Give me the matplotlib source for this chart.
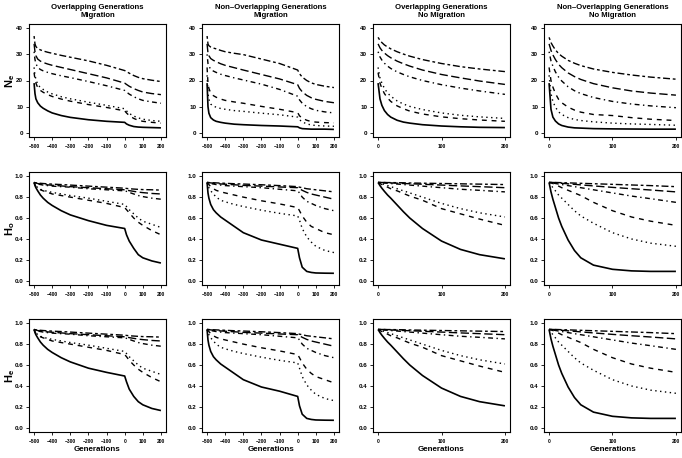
import matplotlib
matplotlib.use("Agg")
import matplotlib.pyplot as plt
from matplotlib.ticker import FormatStrFormatter

plt.rcParams['font.family'] = ['Liberation Sans', 'DejaVu Sans']
plt.rcParams['mathtext.fontset'] = 'custom'
plt.rcParams['mathtext.rm'] = 'Liberation Sans'
plt.rcParams['mathtext.bf'] = 'Liberation Sans:bold'

x_mig = [-500, -495, -490, -480, -465, -450, -425, -400, -350, -300, -200, -100, 0, 10, 25, 50, 75, 100, 150, 200]
x_nomig = [0, 3, 6, 10, 15, 20, 30, 40, 50, 70, 100, 130, 160, 200]

col_titles = ["Overlapping Generations\nMigration",
              "Non\u2013Overlapping Generations\nMigration",
              "Overlapping Generations\nNo Migration",
              "Non\u2013Overlapping Generations\nNo Migration"]
row_labels = [r"$\mathbf{N_e}$", r"$\mathbf{H_o}$", r"$\mathbf{H_e}$"]

# series order in every panel: solid, dashed, dotted, dotdash, longdash, twodash
ne_ov_mig = [
    [19, 15, 13, 11.5, 10.2, 9.4, 8.4, 7.6, 6.6, 5.9, 5.0, 4.4, 4.0, 3.4, 2.9, 2.4, 2.2, 2.1, 2.0, 1.9],
    [23, 20.5, 19, 17.3, 16.2, 15.5, 14.6, 13.9, 12.9, 12.1, 10.8, 9.7, 8.4, 7.6, 6.6, 5.5, 4.8, 4.4, 4.0, 3.7],
    [25, 22, 20.5, 18.5, 17.3, 16.6, 15.6, 14.9, 13.8, 13.0, 11.7, 10.5, 9.2, 8.4, 7.4, 6.4, 5.7, 5.2, 4.7, 4.4],
    [31, 28, 26.5, 25, 24.2, 23.7, 23.1, 22.6, 21.8, 21.1, 19.6, 18.0, 16.2, 15.6, 14.8, 13.8, 13.0, 12.4, 11.8, 11.3],
    [34, 31, 29.5, 28.2, 27.4, 26.9, 26.3, 25.8, 25.0, 24.2, 22.6, 21.0, 19.0, 18.5, 17.8, 16.9, 16.2, 15.6, 15.0, 14.6],
    [37, 34, 33, 32.2, 31.7, 31.3, 30.8, 30.4, 29.6, 28.9, 27.5, 25.8, 23.8, 23.4, 22.8, 21.9, 21.2, 20.7, 20.1, 19.6],
]
ne_nov_mig = [
    [19, 10, 7.5, 5.8, 4.9, 4.4, 4.0, 3.7, 3.3, 3.1, 2.8, 2.6, 2.3, 1.9, 1.6, 1.5, 1.4, 1.4, 1.4, 1.3],
    [25, 19, 17, 15.2, 14.2, 13.6, 12.9, 12.4, 11.8, 11.3, 10.1, 9.0, 7.7, 6.5, 5.6, 4.8, 4.3, 4.1, 3.9, 3.8],
    [22, 15, 12.8, 11, 10.2, 9.8, 9.3, 9.0, 8.5, 8.2, 7.5, 6.9, 6.0, 5.0, 4.2, 3.4, 3.0, 2.8, 2.6, 2.5],
    [30, 26.5, 25.5, 24.3, 23.6, 23.1, 22.4, 21.9, 21.0, 20.2, 18.6, 16.6, 14.0, 12.6, 11.3, 10.0, 9.2, 8.6, 8.0, 7.6],
    [34, 30.5, 29.5, 28.4, 27.7, 27.2, 26.4, 25.8, 24.9, 24.0, 22.3, 20.6, 18.4, 17.0, 15.7, 14.3, 13.4, 12.8, 12.0, 11.5],
    [37, 34, 33.3, 32.8, 32.4, 32.1, 31.5, 31.0, 30.4, 29.9, 28.2, 26.5, 24.0, 22.6, 21.3, 20.0, 19.1, 18.5, 17.8, 17.3],
]
ne_ov_nomig = [
    [19, 13, 10.5, 8.5, 7.0, 6.0, 4.8, 4.1, 3.7, 3.1, 2.6, 2.3, 2.1, 2.0],
    [23, 19, 17, 15, 13.3, 12.0, 10.3, 9.2, 8.3, 7.2, 6.1, 5.4, 4.9, 4.4],
    [25, 21, 19, 17, 15.2, 14.0, 12.2, 11.0, 10.1, 8.9, 7.6, 6.7, 6.1, 5.5],
    [31, 29, 27.8, 26.6, 25.5, 24.6, 23.3, 22.3, 21.4, 20.0, 18.4, 17.1, 16.0, 14.7],
    [34, 32.5, 31.5, 30.5, 29.5, 28.7, 27.4, 26.4, 25.5, 24.0, 22.3, 21.0, 19.8, 18.5],
    [36.5, 35.3, 34.5, 33.6, 32.8, 32.1, 31.0, 30.1, 29.3, 28.0, 26.5, 25.3, 24.4, 23.4],
]
ne_nov_nomig = [
    [19, 9, 6, 4.5, 3.4, 2.8, 2.2, 1.9, 1.8, 1.6, 1.5, 1.45, 1.4, 1.4],
    [25, 20, 17.5, 15, 12.8, 11.5, 9.8, 8.7, 7.9, 7.0, 6.6, 5.8, 5.2, 4.7],
    [22, 15, 12, 9.8, 8.0, 7.0, 5.8, 5.1, 4.7, 4.2, 3.7, 3.4, 3.2, 2.9],
    [31, 27.5, 25.5, 23.3, 21.3, 19.8, 17.6, 16.1, 15.0, 13.5, 12.0, 11.0, 10.3, 9.6],
    [34, 31.5, 29.8, 28.0, 26.2, 24.9, 22.9, 21.5, 20.4, 18.8, 17.2, 16.0, 15.2, 14.4],
    [36.5, 34.5, 33.2, 31.7, 30.3, 29.3, 27.7, 26.6, 25.7, 24.4, 23.1, 22.1, 21.3, 20.5],
]

ho_ov_mig = [
    [0.94, 0.91, 0.89, 0.86, 0.82, 0.79, 0.75, 0.72, 0.67, 0.63, 0.575, 0.53, 0.50, 0.44, 0.38, 0.31, 0.25, 0.22, 0.19, 0.17],
    [0.94, 0.92, 0.90, 0.88, 0.87, 0.86, 0.845, 0.83, 0.815, 0.80, 0.77, 0.74, 0.70, 0.68, 0.65, 0.60, 0.56, 0.53, 0.48, 0.44],
    [0.94, 0.925, 0.91, 0.89, 0.875, 0.865, 0.855, 0.845, 0.83, 0.815, 0.79, 0.76, 0.73, 0.71, 0.68, 0.64, 0.60, 0.57, 0.54, 0.51],
    [0.94, 0.935, 0.93, 0.925, 0.92, 0.915, 0.91, 0.905, 0.90, 0.895, 0.88, 0.87, 0.86, 0.855, 0.845, 0.83, 0.815, 0.805, 0.79, 0.78],
    [0.94, 0.938, 0.935, 0.93, 0.925, 0.92, 0.917, 0.913, 0.907, 0.90, 0.89, 0.88, 0.87, 0.867, 0.862, 0.855, 0.848, 0.843, 0.835, 0.83],
    [0.94, 0.938, 0.937, 0.935, 0.932, 0.93, 0.927, 0.924, 0.92, 0.915, 0.905, 0.895, 0.885, 0.883, 0.88, 0.877, 0.874, 0.872, 0.87, 0.867],
]
ho_nov_mig = [
    [0.94, 0.84, 0.79, 0.73, 0.68, 0.65, 0.61, 0.58, 0.52, 0.46, 0.39, 0.35, 0.31, 0.22, 0.13, 0.09, 0.08, 0.075, 0.073, 0.072],
    [0.94, 0.93, 0.92, 0.90, 0.88, 0.865, 0.85, 0.84, 0.82, 0.80, 0.765, 0.735, 0.70, 0.67, 0.62, 0.56, 0.52, 0.50, 0.46, 0.44],
    [0.94, 0.91, 0.89, 0.86, 0.83, 0.80, 0.77, 0.755, 0.73, 0.71, 0.675, 0.645, 0.62, 0.58, 0.50, 0.42, 0.37, 0.33, 0.29, 0.27],
    [0.94, 0.938, 0.935, 0.93, 0.925, 0.92, 0.915, 0.91, 0.905, 0.90, 0.89, 0.875, 0.86, 0.84, 0.80, 0.76, 0.74, 0.72, 0.69, 0.67],
    [0.94, 0.939, 0.938, 0.936, 0.933, 0.93, 0.926, 0.923, 0.918, 0.912, 0.905, 0.897, 0.89, 0.88, 0.865, 0.845, 0.83, 0.82, 0.80, 0.78],
    [0.94, 0.94, 0.939, 0.938, 0.937, 0.936, 0.934, 0.932, 0.928, 0.925, 0.918, 0.91, 0.90, 0.895, 0.89, 0.88, 0.875, 0.87, 0.86, 0.85],
]
ho_ov_nomig = [
    [0.94, 0.91, 0.885, 0.855, 0.82, 0.79, 0.725, 0.66, 0.60, 0.50, 0.38, 0.30, 0.25, 0.21],
    [0.94, 0.93, 0.92, 0.91, 0.895, 0.88, 0.86, 0.835, 0.81, 0.77, 0.69, 0.64, 0.59, 0.53],
    [0.94, 0.935, 0.93, 0.92, 0.91, 0.90, 0.88, 0.86, 0.84, 0.80, 0.74, 0.69, 0.65, 0.61],
    [0.94, 0.94, 0.937, 0.935, 0.932, 0.93, 0.925, 0.92, 0.915, 0.905, 0.89, 0.875, 0.865, 0.85],
    [0.94, 0.94, 0.94, 0.939, 0.937, 0.936, 0.933, 0.93, 0.928, 0.923, 0.915, 0.907, 0.90, 0.89],
    [0.94, 0.94, 0.94, 0.94, 0.939, 0.939, 0.938, 0.937, 0.935, 0.933, 0.93, 0.927, 0.924, 0.92],
]
ho_nov_nomig = [
    [0.94, 0.85, 0.78, 0.70, 0.60, 0.52, 0.39, 0.29, 0.22, 0.15, 0.11, 0.095, 0.09, 0.09],
    [0.94, 0.935, 0.93, 0.92, 0.905, 0.89, 0.865, 0.84, 0.815, 0.75, 0.67, 0.61, 0.57, 0.53],
    [0.94, 0.915, 0.89, 0.86, 0.82, 0.79, 0.73, 0.67, 0.62, 0.55, 0.46, 0.40, 0.36, 0.33],
    [0.94, 0.94, 0.935, 0.93, 0.925, 0.92, 0.91, 0.90, 0.89, 0.87, 0.84, 0.81, 0.785, 0.75],
    [0.94, 0.94, 0.94, 0.938, 0.935, 0.932, 0.927, 0.922, 0.917, 0.907, 0.893, 0.88, 0.868, 0.85],
    [0.94, 0.94, 0.94, 0.94, 0.939, 0.938, 0.936, 0.934, 0.932, 0.928, 0.922, 0.916, 0.91, 0.90],
]

he_ov_mig = [
    [0.94, 0.91, 0.89, 0.86, 0.82, 0.79, 0.75, 0.72, 0.67, 0.63, 0.57, 0.53, 0.495, 0.44, 0.37, 0.30, 0.25, 0.22, 0.185, 0.165],
    [0.94, 0.92, 0.90, 0.88, 0.87, 0.86, 0.845, 0.83, 0.815, 0.80, 0.77, 0.74, 0.70, 0.68, 0.645, 0.60, 0.56, 0.53, 0.48, 0.44],
    [0.94, 0.925, 0.91, 0.89, 0.875, 0.865, 0.855, 0.845, 0.83, 0.815, 0.79, 0.76, 0.73, 0.71, 0.68, 0.64, 0.60, 0.57, 0.54, 0.51],
    [0.94, 0.935, 0.93, 0.925, 0.92, 0.915, 0.91, 0.905, 0.90, 0.895, 0.88, 0.87, 0.86, 0.855, 0.845, 0.83, 0.815, 0.805, 0.79, 0.78],
    [0.94, 0.938, 0.935, 0.93, 0.925, 0.92, 0.917, 0.913, 0.907, 0.90, 0.89, 0.88, 0.87, 0.867, 0.862, 0.855, 0.848, 0.843, 0.835, 0.83],
    [0.94, 0.938, 0.937, 0.935, 0.932, 0.93, 0.927, 0.924, 0.92, 0.915, 0.905, 0.895, 0.885, 0.883, 0.88, 0.877, 0.874, 0.872, 0.87, 0.867],
]
he_nov_mig = [
    [0.94, 0.84, 0.79, 0.73, 0.68, 0.65, 0.61, 0.58, 0.52, 0.46, 0.39, 0.35, 0.30, 0.21, 0.13, 0.09, 0.08, 0.075, 0.073, 0.072],
    [0.94, 0.93, 0.92, 0.90, 0.88, 0.865, 0.85, 0.84, 0.82, 0.80, 0.765, 0.735, 0.70, 0.67, 0.62, 0.56, 0.52, 0.49, 0.46, 0.43],
    [0.94, 0.91, 0.89, 0.86, 0.83, 0.80, 0.77, 0.755, 0.73, 0.71, 0.675, 0.645, 0.62, 0.57, 0.49, 0.41, 0.36, 0.32, 0.28, 0.26],
    [0.94, 0.938, 0.935, 0.93, 0.925, 0.92, 0.915, 0.91, 0.905, 0.90, 0.89, 0.875, 0.86, 0.84, 0.80, 0.76, 0.74, 0.72, 0.69, 0.67],
    [0.94, 0.939, 0.938, 0.936, 0.933, 0.93, 0.926, 0.923, 0.918, 0.912, 0.905, 0.897, 0.89, 0.88, 0.865, 0.845, 0.83, 0.82, 0.80, 0.78],
    [0.94, 0.94, 0.939, 0.938, 0.937, 0.936, 0.934, 0.932, 0.928, 0.925, 0.918, 0.91, 0.90, 0.895, 0.89, 0.88, 0.875, 0.87, 0.86, 0.85],
]
he_ov_nomig = [
    [0.94, 0.91, 0.885, 0.855, 0.82, 0.79, 0.725, 0.66, 0.60, 0.50, 0.38, 0.30, 0.25, 0.21],
    [0.94, 0.93, 0.92, 0.91, 0.895, 0.88, 0.86, 0.835, 0.81, 0.77, 0.69, 0.64, 0.59, 0.53],
    [0.94, 0.935, 0.93, 0.92, 0.91, 0.90, 0.88, 0.86, 0.84, 0.80, 0.74, 0.69, 0.65, 0.61],
    [0.94, 0.94, 0.937, 0.935, 0.932, 0.93, 0.925, 0.92, 0.915, 0.905, 0.89, 0.875, 0.865, 0.85],
    [0.94, 0.94, 0.94, 0.939, 0.937, 0.936, 0.933, 0.93, 0.928, 0.923, 0.915, 0.907, 0.90, 0.89],
    [0.94, 0.94, 0.94, 0.94, 0.939, 0.939, 0.938, 0.937, 0.935, 0.933, 0.93, 0.927, 0.924, 0.92],
]
he_nov_nomig = [
    [0.94, 0.85, 0.78, 0.70, 0.60, 0.52, 0.39, 0.29, 0.22, 0.15, 0.11, 0.095, 0.09, 0.09],
    [0.94, 0.935, 0.93, 0.92, 0.905, 0.89, 0.865, 0.84, 0.815, 0.75, 0.67, 0.61, 0.57, 0.53],
    [0.94, 0.915, 0.89, 0.86, 0.82, 0.79, 0.73, 0.67, 0.62, 0.55, 0.46, 0.40, 0.36, 0.33],
    [0.94, 0.94, 0.935, 0.93, 0.925, 0.92, 0.91, 0.90, 0.89, 0.87, 0.84, 0.81, 0.785, 0.75],
    [0.94, 0.94, 0.94, 0.938, 0.935, 0.932, 0.927, 0.922, 0.917, 0.907, 0.893, 0.88, 0.868, 0.85],
    [0.94, 0.94, 0.94, 0.94, 0.939, 0.938, 0.936, 0.934, 0.932, 0.928, 0.922, 0.916, 0.91, 0.90],
]

panels = [
    [ne_ov_mig, ne_nov_mig, ne_ov_nomig, ne_nov_nomig],
    [ho_ov_mig, ho_nov_mig, ho_ov_nomig, ho_nov_nomig],
    [he_ov_mig, he_nov_mig, he_ov_nomig, he_nov_nomig],
]

# R-like line types: solid, dashed, dotted, dotdash, longdash, twodash
dash_patterns = [None, (3.5, 3.5), (1, 2.5), (1, 2.5, 3.5, 2.5), (6, 2.5), (2, 2, 5, 2)]

W, H = 682, 458
fig = plt.figure(figsize=(W / 100, H / 100), dpi=100)

col_left = [29, 202, 373, 544]
row_top = [24, 172, 319]
ax_w, ax_h = 137, 113

for r in range(3):
    for c in range(4):
        left = col_left[c]
        top = row_top[r]
        ax = fig.add_axes([left / W, 1 - (top + ax_h) / H, ax_w / W, ax_h / H])
        xs = x_mig if c < 2 else x_nomig
        for series, dp in zip(panels[r][c], dash_patterns):
            if dp is None:
                ax.plot(xs, series, color='black', lw=1.2, solid_capstyle='butt')
            else:
                ax.plot(xs, series, color='black', lw=1.0, dashes=dp)
        if c < 2:
            ax.set_xlim(-528, 228)
            ax.set_xticks(range(-500, 201, 100))
        else:
            ax.set_xlim(-8, 208)
            ax.set_xticks([0, 100, 200])
        if r == 0:
            ax.set_ylim(-1.6, 41.6)
            ax.set_yticks([0, 10, 20, 30, 40])
            ax.set_title(col_titles[c], fontsize=5.6, fontweight='bold', pad=5, linespacing=1.15)
        else:
            ax.set_ylim(-0.04, 1.04)
            ax.set_yticks([0, 0.2, 0.4, 0.6, 0.8, 1.0])
            ax.yaxis.set_major_formatter(FormatStrFormatter('%.1f'))
        if c == 0:
            ax.set_ylabel(row_labels[r], fontsize=8)
            ax.yaxis.set_label_coords(-0.09, 0.5)
        if r == 2:
            ax.set_xlabel("Generations", fontsize=5.8, fontweight='bold', labelpad=1)
        ax.tick_params(axis='x', labelsize=3.5, length=2.2, width=0.6, pad=3)
        ax.tick_params(axis='y', labelsize=4.5, length=2.2, width=0.6, pad=2)
        for lab in ax.get_xticklabels() + ax.get_yticklabels():
            lab.set_fontweight('bold')
        for sp in ax.spines.values():
            sp.set_linewidth(0.8)

fig.savefig("out.png", dpi=100)
